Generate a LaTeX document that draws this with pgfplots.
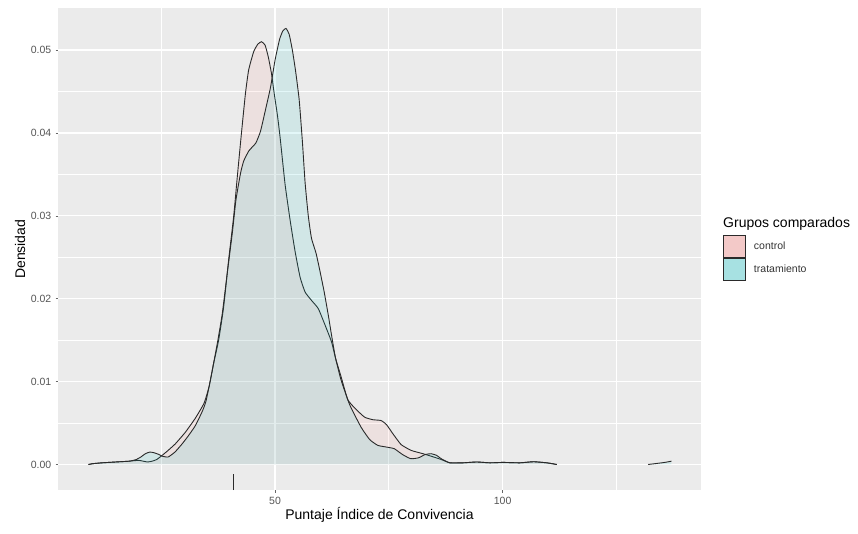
\documentclass[border=0pt]{standalone}
\usepackage{fontspec}
\setmainfont{Liberation Sans}
\usepackage{pgfplots}
\pgfplotsset{compat=1.18}
\definecolor{panelbg}{HTML}{EBEBEB}
\definecolor{ctrl}{HTML}{F8766D}
\definecolor{trat}{HTML}{00BFC4}
\definecolor{ctrlkey}{HTML}{F3C9C8}
\definecolor{tratkey}{HTML}{A7E1E2}
\definecolor{ticklab}{HTML}{555555}
\definecolor{outl}{HTML}{2A2A2A}
\begin{document}
\begin{tikzpicture}
\useasboundingbox (-58pt,-43pt) rectangle (800pt,490pt);
\begin{axis}[
  at={(0pt,0pt)}, anchor=south west,
  scale only axis, width=643pt, height=481.5pt,
  xmin=2.3, xmax=143.6, ymin=-0.00308, ymax=0.05501,
  axis background/.style={fill=panelbg},
  axis line style={draw=none},
  grid=both,
  major grid style={white, line width=1.3pt},
  minor grid style={white, line width=0.8pt},
  xtick={50,100}, minor xtick={25,75,125},
  ytick={0,0.01,0.02,0.03,0.04,0.05},
  minor ytick={0.005,0.015,0.025,0.035,0.045},
  xtick pos=bottom, ytick pos=left,
  tick align=outside, major tick length=2.5pt, minor tick length=0pt,
  tick style={draw=black!60, line width=0.5pt},
  ticklabel style={font=\fontsize{10.5}{12}\selectfont, text=ticklab},
  /pgf/number format/assume math mode=true,
  scaled y ticks=false,
  yticklabel style={anchor=east, inner sep=0pt, xshift=-4pt, /pgf/number format/.cd, fixed, fixed zerofill, precision=2},
  xticklabel style={anchor=north, inner sep=0pt, yshift=-4pt},
  xlabel={Puntaje Índice de Convivencia},
  ylabel={Densidad},
  label style={font=\fontsize{14}{16}\selectfont},
  x label style={at={(axis description cs:0.5,-0.0519)}, anchor=center},
  y label style={at={(axis description cs:-0.0591,0.5)}, anchor=center},
  legend style={at={(axis description cs:1.0342,0.5296)}, anchor=north west,
    draw=none, fill=none, inner sep=0pt, outer sep=0pt, row sep=0pt,
    nodes={inner sep=0pt, text=black!80}, font=\fontsize{10.5}{12}\selectfont,
    /tikz/every odd column/.append style={column sep=8pt}},
  legend cell align=left,
]
% control
\addplot[draw=none, fill=ctrl, fill opacity=0.09, forget plot] coordinates {
(9.0,0.0000) (10,0.0001) (12,0.0002) (15,0.0003) (18,0.0004) (20,0.0005)
(21,0.0004) (22,0.0003) (23,0.0004) (24,0.0006) (25.2,0.0011) (26.5,0.0017)
(28.1,0.0025) (30.3,0.0039) (32.5,0.0056) (34.4,0.0074) (35.5,0.0094)
(36.5,0.0122) (37.6,0.0150) (38.7,0.0190) (39.8,0.0247) (40.9,0.0299)
(41.7,0.0347) (42.6,0.0399) (43.5,0.0448) (44.2,0.0476) (45.3,0.0498)
(46.2,0.0507) (47.0,0.0510) (47.8,0.0506) (48.5,0.0492) (49.2,0.0472)
(49.8,0.0448) (50.5,0.0422) (51.1,0.0395) (52.2,0.0338) (53.3,0.0295)
(54.4,0.0257) (55.5,0.0226) (56.6,0.0208) (58.0,0.0198) (59.5,0.0188)
(61.0,0.0168) (62.4,0.0148) (63.3,0.0128) (64.5,0.0106) (66.0,0.0078)
(67.9,0.0066) (69.7,0.0057) (71.5,0.0054) (73.3,0.0053) (74.5,0.0048)
(75.9,0.0037) (77.7,0.0024) (79.9,0.0017) (82.5,0.0013) (84.3,0.0010)
(86.5,0.0006) (88.4,0.0002) (91.3,0.0002) (94.3,0.0003) (97.2,0.0002)
(100.1,0.00025) (103.8,0.0002) (106.8,0.00033) (109.7,0.0002) (111.9,0.0000)
} \closedcycle;
\addplot[draw=outl, line width=0.9pt, smooth, tension=0.3,
  legend image code/.code={\draw[outl, line width=1pt, fill=ctrlkey] (0pt,-11pt) rectangle (22pt,11pt);}] coordinates {
(9.0,0.0000) (10,0.0001) (12,0.0002) (15,0.0003) (18,0.0004) (20,0.0005)
(21,0.0004) (22,0.0003) (23,0.0004) (24,0.0006) (25.2,0.0011) (26.5,0.0017)
(28.1,0.0025) (30.3,0.0039) (32.5,0.0056) (34.4,0.0074) (35.5,0.0094)
(36.5,0.0122) (37.6,0.0150) (38.7,0.0190) (39.8,0.0247) (40.9,0.0299)
(41.7,0.0347) (42.6,0.0399) (43.5,0.0448) (44.2,0.0476) (45.3,0.0498)
(46.2,0.0507) (47.0,0.0510) (47.8,0.0506) (48.5,0.0492) (49.2,0.0472)
(49.8,0.0448) (50.5,0.0422) (51.1,0.0395) (52.2,0.0338) (53.3,0.0295)
(54.4,0.0257) (55.5,0.0226) (56.6,0.0208) (58.0,0.0198) (59.5,0.0188)
(61.0,0.0168) (62.4,0.0148) (63.3,0.0128) (64.5,0.0106) (66.0,0.0078)
(67.9,0.0066) (69.7,0.0057) (71.5,0.0054) (73.3,0.0053) (74.5,0.0048)
(75.9,0.0037) (77.7,0.0024) (79.9,0.0017) (82.5,0.0013) (84.3,0.0010)
(86.5,0.0006) (88.4,0.0002) (91.3,0.0002) (94.3,0.0003) (97.2,0.0002)
(100.1,0.00025) (103.8,0.0002) (106.8,0.00033) (109.7,0.0002) (111.9,0.0000)
};
\addlegendentry{control}
% tratamiento
\addplot[draw=none, fill=trat, fill opacity=0.11, forget plot] coordinates {
(9.0,0.0000) (10,0.0001) (12,0.0002) (15,0.0003) (18,0.0004) (19.5,0.0006)
(20.5,0.0009) (21.5,0.0013) (22.5,0.0015) (23.5,0.0014) (24.5,0.0012)
(25.2,0.0010) (26.5,0.0009) (28.0,0.0015) (29.6,0.0025) (31.0,0.0035)
(32.5,0.0047) (34.0,0.0064) (34.8,0.0076) (35.8,0.0102) (36.9,0.0134)
(37.5,0.0152) (38.4,0.0182) (39.5,0.0231) (40.6,0.0279) (41.4,0.0319)
(42.4,0.0351) (43.1,0.0366) (44.2,0.0378) (45.0,0.0383) (45.8,0.0388)
(46.8,0.0402) (47.9,0.0428) (49.0,0.0455) (50.0,0.0488) (51.0,0.0513)
(51.7,0.0523) (52.4,0.0526) (53.1,0.0519) (53.8,0.0500) (54.5,0.0475)
(55.3,0.0440) (56.0,0.0390) (56.6,0.0340) (57.3,0.0300) (58.0,0.0273)
(59.0,0.0255) (59.8,0.0235) (60.8,0.0208) (61.7,0.0180) (62.5,0.0153)
(63.3,0.0128) (64.5,0.0102) (66.4,0.0072) (68.9,0.0045) (70.8,0.0030)
(72.6,0.0023) (74.5,0.0021) (76.2,0.0019) (78.0,0.0012) (79.8,0.0007)
(81.5,0.0008) (83.0,0.0012) (84.3,0.0013) (85.5,0.0011) (86.5,0.0007)
(88.4,0.0002) (91.3,0.0002) (94.3,0.0003) (97.2,0.0002) (100.1,0.00025)
(103.8,0.0002) (106.8,0.00033) (109.7,0.0002) (111.9,0.0000)
} \closedcycle;
\addplot[draw=outl, line width=0.9pt, smooth, tension=0.3,
  legend image code/.code={\draw[outl, line width=1pt, fill=tratkey] (0pt,-11pt) rectangle (22pt,11pt);}] coordinates {
(9.0,0.0000) (10,0.0001) (12,0.0002) (15,0.0003) (18,0.0004) (19.5,0.0006)
(20.5,0.0009) (21.5,0.0013) (22.5,0.0015) (23.5,0.0014) (24.5,0.0012)
(25.2,0.0010) (26.5,0.0009) (28.0,0.0015) (29.6,0.0025) (31.0,0.0035)
(32.5,0.0047) (34.0,0.0064) (34.8,0.0076) (35.8,0.0102) (36.9,0.0134)
(37.5,0.0152) (38.4,0.0182) (39.5,0.0231) (40.6,0.0279) (41.4,0.0319)
(42.4,0.0351) (43.1,0.0366) (44.2,0.0378) (45.0,0.0383) (45.8,0.0388)
(46.8,0.0402) (47.9,0.0428) (49.0,0.0455) (50.0,0.0488) (51.0,0.0513)
(51.7,0.0523) (52.4,0.0526) (53.1,0.0519) (53.8,0.0500) (54.5,0.0475)
(55.3,0.0440) (56.0,0.0390) (56.6,0.0340) (57.3,0.0300) (58.0,0.0273)
(59.0,0.0255) (59.8,0.0235) (60.8,0.0208) (61.7,0.0180) (62.5,0.0153)
(63.3,0.0128) (64.5,0.0102) (66.4,0.0072) (68.9,0.0045) (70.8,0.0030)
(72.6,0.0023) (74.5,0.0021) (76.2,0.0019) (78.0,0.0012) (79.8,0.0007)
(81.5,0.0008) (83.0,0.0012) (84.3,0.0013) (85.5,0.0011) (86.5,0.0007)
(88.4,0.0002) (91.3,0.0002) (94.3,0.0003) (97.2,0.0002) (100.1,0.00025)
(103.8,0.0002) (106.8,0.00033) (109.7,0.0002) (111.9,0.0000)
};
\addlegendentry{tratamiento}
% far right tail
\addplot[draw=none, fill=trat, fill opacity=0.11, forget plot] coordinates {
(132.0,0.0000) (133.5,0.0001) (135.0,0.0002) (136.2,0.0003) (137.1,0.0004)
} \closedcycle;
\addplot[draw=outl, line width=0.9pt, forget plot] coordinates {
(132.0,0.0000) (133.5,0.0001) (135.0,0.0002) (136.2,0.0003) (137.1,0.0004)
};
% rug
\addplot[draw=outl, line width=0.9pt, forget plot] coordinates {(40.8,-0.00308) (40.8,-0.0011)};
\end{axis}
\node[anchor=base west, font=\fontsize{14}{16}\selectfont, inner sep=0pt] at (665pt,262pt) {Grupos comparados};
\end{tikzpicture}
\end{document}
